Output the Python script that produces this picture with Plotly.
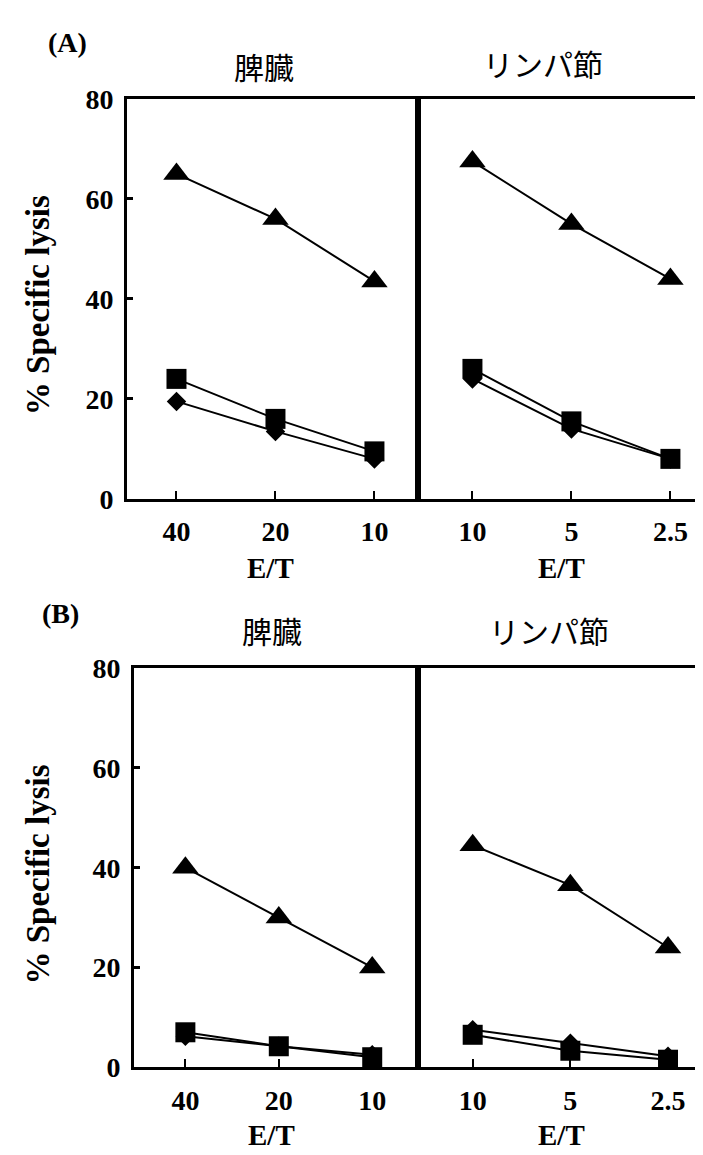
import plotly.graph_objects as go

# ---------------- data ----------------
spleen_et = ["40", "20", "10"]
lymph_et = ["10", "5", "2.5"]

# Panel A
a_spleen_triangle = [65, 56, 43.5]
a_spleen_square = [24, 16, 9.5]
a_spleen_diamond = [19.5, 13.5, 8]
a_lymph_triangle = [67.5, 55, 44]
a_lymph_square = [26, 15.5, 8]
a_lymph_diamond = [24, 14, 8]

# Panel B
b_spleen_triangle = [40, 30, 20]
b_spleen_square = [7, 4.2, 2]
b_spleen_diamond = [6.2, 4.2, 2.5]
b_lymph_triangle = [44.5, 36.5, 24]
b_lymph_square = [6.5, 3.3, 1.5]
b_lymph_diamond = [7.5, 4.8, 2.2]

y_ticks = [0, 20, 40, 60, 80]
panel_labels = ["(A)", "(B)"]
organ_titles = ["脾臓", "リンパ節"]
x_title = "E/T"
y_title = "% Specific lysis"

W, H = 703, 1155
SERIF = "Liberation Serif, Times New Roman, serif"
CJK = "Noto Sans CJK JP, sans-serif"


def px(x):
    return x / W


def py(y):
    return 1 - y / H


fig = go.Figure()

subplots = [
    ("x", "y", spleen_et, a_spleen_triangle, a_spleen_square, a_spleen_diamond),
    ("x2", "y2", lymph_et, a_lymph_triangle, a_lymph_square, a_lymph_diamond),
    ("x3", "y3", spleen_et, b_spleen_triangle, b_spleen_square, b_spleen_diamond),
    ("x4", "y4", lymph_et, b_lymph_triangle, b_lymph_square, b_lymph_diamond),
]

for xa, ya, cats, tri, sq, dia in subplots:
    for vals, sym, size in [(tri, "triangle-up", 23), (dia, "diamond", 15), (sq, "square", 20)]:
        fig.add_trace(go.Scatter(
            x=cats, y=vals, xaxis=xa, yaxis=ya, mode="lines+markers",
            line=dict(color="black", width=2),
            marker=dict(symbol=sym, size=size, color="black"),
            showlegend=False, cliponaxis=False,
        ))

tickfont = dict(family=SERIF, size=28, color="black", weight="bold")

common_x = dict(type="category", showline=True, linecolor="black", linewidth=3,
                ticks="inside", ticklen=8, tickwidth=2, tickcolor="black",
                showgrid=False, zeroline=False, tickfont=tickfont, ticklabelstandoff=6)
common_y = dict(range=[0, 80], tickvals=y_ticks, showline=True, linecolor="black",
                linewidth=3, showgrid=False, zeroline=False, tickfont=tickfont)

A_top, A_bot = 78, 489
B_top, B_bot = 663, 1073
A_left, B_left, mid = 119, 126, 410

fig.update_layout(
    width=W, height=H, margin=dict(l=0, r=0, t=0, b=0),
    paper_bgcolor="white", plot_bgcolor="white",
    xaxis=dict(common_x, domain=[px(A_left), px(mid)], range=[-0.5, 2.44], anchor="y", mirror=True),
    yaxis=dict(common_y, domain=[py(A_bot), py(A_top)], anchor="x", ticks="inside",
               ticklen=6, tickwidth=3, tickcolor="black", mirror=True, ticklabelstandoff=5),
    xaxis2=dict(common_x, domain=[px(mid), 1.0], range=[-0.55, 2.41], anchor="y2", mirror=True),
    yaxis2=dict(common_y, domain=[py(A_bot), py(A_top)], anchor="x2", showticklabels=False, ticks=""),
    xaxis3=dict(common_x, domain=[px(B_left), px(mid)], range=[-0.55, 2.49], anchor="y3", mirror=True),
    yaxis3=dict(common_y, domain=[py(B_bot), py(B_top)], anchor="x3", ticks="inside",
                ticklen=6, tickwidth=3, tickcolor="black", mirror=True, ticklabelstandoff=5),
    xaxis4=dict(common_x, domain=[px(mid), 1.0], range=[-0.56, 2.44], anchor="y4", mirror=True),
    yaxis4=dict(common_y, domain=[py(B_bot), py(B_top)], anchor="x4", showticklabels=False, ticks=""),
)

ann = []


def add_text(text, x, y, font, angle=0):
    ann.append(dict(text=text, x=px(x), y=py(y), xref="paper", yref="paper",
                    showarrow=False, xanchor="center", yanchor="middle",
                    font=font, textangle=angle))


label_font = dict(family=SERIF, size=28, color="black", weight="bold")
et_font = dict(family=SERIF, size=29, color="black", weight="bold")
cjk_font = dict(family=CJK, size=30, color="black")
ytf = dict(family=SERIF, size=33, color="black", weight="bold")

add_text(panel_labels[0], 60, 20, label_font)
add_text(panel_labels[1], 52, 607, label_font)
add_text(organ_titles[0], 256, 44, cjk_font)
add_text(organ_titles[1], 535, 41, cjk_font)
add_text(organ_titles[0], 264, 624, cjk_font)
add_text(organ_titles[1], 541, 624, cjk_font)
add_text(x_title, 262, 560, et_font)
add_text(x_title, 553, 560, et_font)
add_text(x_title, 263, 1143, et_font)
add_text(x_title, 553, 1143, et_font)
add_text(y_title, 30, 290, ytf, -90)
add_text(y_title, 30, 875, ytf, -90)

fig.update_layout(annotations=ann)

fig.write_html("out.html")
